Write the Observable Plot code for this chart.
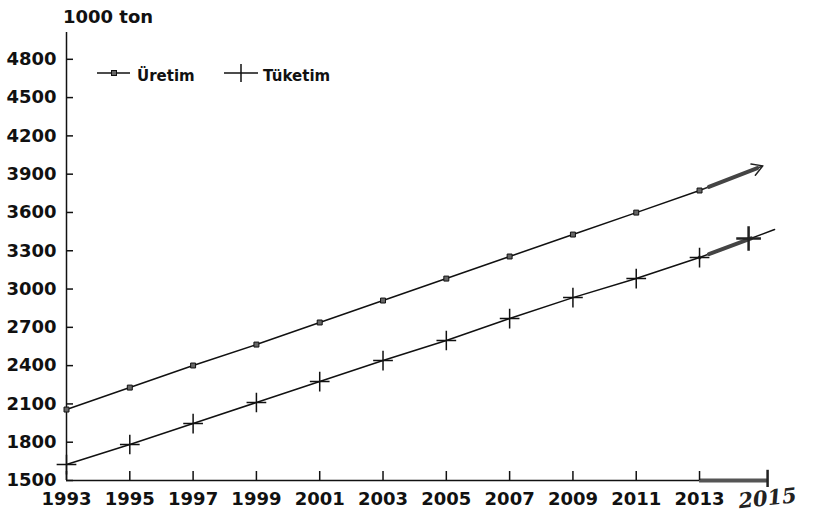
<!DOCTYPE html>
<html>
<head>
<meta charset="utf-8">
<script src="https://cdn.jsdelivr.net/npm/d3@7"></script>
<script src="https://cdn.jsdelivr.net/npm/@observablehq/plot@0.6"></script>
<style>
  body { margin: 0; background: #fff; }
  #wrap { position: relative; width: 813px; height: 514px; }
  #overlay { position: absolute; left: 0; top: 0; pointer-events: none; }
  #overlay text { font-family: "DejaVu Sans", sans-serif; font-weight: bold; fill: #111; }
</style>
</head>
<body>
<div id="wrap">
  <div id="chart"></div>
  <svg id="overlay" width="813" height="100">
    <text x="63" y="23" font-size="18">1000 ton</text>
    <line x1="97" y1="73" x2="130" y2="73" stroke="#111" stroke-width="1.5"/>
    <rect x="111.5" y="70.5" width="5" height="5" fill="#666" stroke="#111" stroke-width="1"/>
    <text x="137" y="81" font-size="15">Üretim</text>
    <line x1="224" y1="73" x2="258" y2="73" stroke="#111" stroke-width="1.5"/>
    <line x1="241" y1="64" x2="241" y2="82" stroke="#111" stroke-width="1.5"/>
    <text x="263" y="81" font-size="15">Tüketim</text>
  </svg>
</div>
<script>
// ---- data ----
const years   = [1993, 1995, 1997, 1999, 2001, 2003, 2005, 2007, 2009, 2011, 2013];
const uretim  = [2056, 2228, 2401, 2565, 2738, 2910, 3082, 3255, 3427, 3599, 3772];
const tuketim = [1625, 1782, 1946, 2111, 2275, 2440, 2597, 2769, 2933, 3082, 3247];
const yTicks  = [1500, 1800, 2100, 2400, 2700, 3000, 3300, 3600, 3900, 4200, 4500, 4800];
const xTicks  = years;

// hand-drawn extension towards 2015
const uretimExtYears  = [2013, 2015];
const uretimExt       = [3772, 3965];
const tuketimExtYears = [2013, 2015.37];
const tuketimExt      = [3247, 3466];
const handCrossYear   = [2014.55];
const handCrossValue  = [3396];
const axisEndYear     = [2015.15];
const handLabel       = ["2015"];

const uData = years.map((y, i) => ({year: y, value: uretim[i]}));
const tData = years.map((y, i) => ({year: y, value: tuketim[i]}));
const uExt = uretimExtYears.map((y, i) => ({year: y, value: uretimExt[i]}));
const tExt = tuketimExtYears.map((y, i) => ({year: y, value: tuketimExt[i]}));
const cross = handCrossYear.map((y, i) => ({year: y, value: handCrossValue[i]}));
const endTick = axisEndYear.map((y, i) => ({year: y, label: handLabel[i]}));

const font = {fontFamily: "DejaVu Sans", fontWeight: "bold", fontSize: 18};
const fmt = d => `${d}`;

const chart = Plot.plot({
  width: 813,
  height: 514,
  marginLeft: 66,
  marginRight: 38,
  marginTop: 32,
  marginBottom: 34,
  style: {fontFamily: "DejaVu Sans", fontSize: "18px", fontWeight: "bold", color: "#111", background: "#fff"},
  x: {domain: [1993, 2015.4], label: null},
  y: {domain: [1500, 5010], label: null},
  marks: [
    // axis lines
    Plot.ruleX([xTicks[0]], {y1: yTicks[0], y2: 5010, stroke: "#111", strokeWidth: 1.5}),
    Plot.ruleY([yTicks[0]], {x1: xTicks[0], x2: xTicks[xTicks.length - 1], stroke: "#111", strokeWidth: 1.5}),
    // hand-drawn axis extension
    Plot.ruleY([yTicks[0]], {x1: xTicks[xTicks.length - 1], x2: axisEndYear[0], stroke: "#555", strokeWidth: 4}),
    Plot.ruleX(endTick, {x: "year", y1: yTicks[0] - 55, y2: yTicks[0] + 80, stroke: "#222", strokeWidth: 2.5}),
    // inward ticks
    Plot.axisY(yTicks, {text: null, tickSize: 7, dx: 7, strokeWidth: 1.5, label: null}),
    Plot.axisX(xTicks, {text: null, tickSize: 9, dy: -9, strokeWidth: 1.5, label: null}),
    // tick labels
    Plot.axisY(yTicks, {tickSize: 0, tickPadding: 10, tickFormat: fmt, label: null, ...font}),
    Plot.axisX(xTicks, {tickSize: 0, tickPadding: 12, tickFormat: fmt, label: null, ...font}),
    Plot.text(endTick, {x: "year", y: () => yTicks[0], text: "label", dy: 18,
      fontFamily: "DejaVu Serif", fontWeight: "bold", fontStyle: "italic", fontSize: 21, rotate: -6, fill: "#222"}),
    // Üretim
    Plot.line(uData, {x: "year", y: "value", stroke: "#111", strokeWidth: 1.5}),
    Plot.arrow(uExt, {x1: () => uExt[0].year, y1: () => uExt[0].value, x2: () => uExt[1].year, y2: () => uExt[1].value,
      filter: (d, i) => i === 0, stroke: "#222", strokeWidth: 1.5, headLength: 12}),
    Plot.line(uExt, {x: "year", y: "value", stroke: "#444", strokeWidth: 4, strokeDasharray: "0 10 52 1000"}),
    Plot.dot(uData, {x: "year", y: "value", symbol: "square", r: 2.8, fill: "#666", stroke: "#111", strokeWidth: 1}),
    // Tüketim
    Plot.line(tData, {x: "year", y: "value", stroke: "#111", strokeWidth: 1.5}),
    Plot.line(tExt, {x: "year", y: "value", stroke: "#111", strokeWidth: 1.5}),
    Plot.line(tExt, {x: "year", y: "value", stroke: "#444", strokeWidth: 4, strokeDasharray: "0 10 45 1000"}),
    Plot.dot(tData, {x: "year", y: "value", symbol: "plus", r: 6.4, stroke: "#111", strokeWidth: 1.5}),
    Plot.dot(cross, {x: "year", y: "value", symbol: "plus", r: 8, stroke: "#222", strokeWidth: 2.5})
  ]
});
document.getElementById("chart").appendChild(chart);
</script>
</body>
</html>
